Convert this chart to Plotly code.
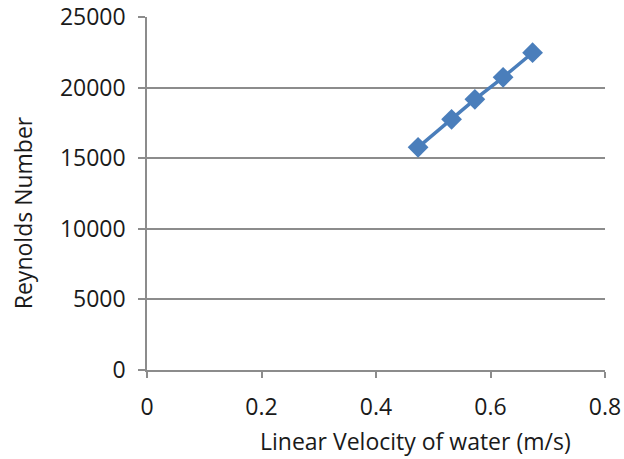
import plotly.graph_objects as go

velocity = [0.4735, 0.532, 0.5727, 0.622, 0.6735]
reynolds = [15770, 17750, 19170, 20730, 22470]

x_ticks = [0, 0.2, 0.4, 0.6, 0.8]
x_labels = ["0", "0.2", "0.4", "0.6", "0.8"]
y_ticks = [0, 5000, 10000, 15000, 20000, 25000]
y_labels = ["0", "5000", "10000", "15000", "20000", "25000"]

x_title = "Linear Velocity of water (m/s)"
y_title = "Reynolds Number"

fig = go.Figure()
fig.add_trace(go.Scatter(
    x=velocity, y=reynolds, mode="lines+markers",
    line=dict(color="#4a7ebb", width=3.5),
    marker=dict(symbol="diamond", size=16, color="#4a7ebb"),
    showlegend=False,
))

fam = "Open Sans, Liberation Sans, sans-serif"
font = dict(family=fam, size=23, color="#1a1a1a")
grey = "#8c8c8c"

fig.update_layout(
    width=624, height=459,
    margin=dict(l=147, r=19, t=17, b=89),
    paper_bgcolor="white", plot_bgcolor="white",
    font=font,
    xaxis=dict(
        range=[0, 0.8], tickvals=x_ticks, ticktext=x_labels,
        showgrid=False, zeroline=False, automargin=False,
        showline=True, linecolor=grey, linewidth=1.5,
        ticks="outside", ticklen=6, tickcolor=grey, tickwidth=1.5,
        ticklabelstandoff=10,
    ),
    yaxis=dict(
        range=[0, 25000], tickvals=y_ticks, ticktext=y_labels,
        showgrid=True, gridcolor=grey, gridwidth=1.5,
        zeroline=False, automargin=False,
        showline=True, linecolor=grey, linewidth=1.5,
        ticks="outside", ticklen=7, tickcolor=grey, tickwidth=1.5,
        ticklabelstandoff=8,
    ),
    annotations=[
        dict(text=x_title, xref="paper", yref="paper", x=0.587, y=-0.201,
             xanchor="center", yanchor="middle", showarrow=False,
             font=dict(family=fam, size=23, color="#1a1a1a")),
        dict(text=y_title, xref="paper", yref="paper", x=-0.27, y=0.445,
             xanchor="center", yanchor="middle", showarrow=False,
             textangle=-90, font=dict(family=fam, size=23, color="#1a1a1a")),
    ],
)

fig.write_html("out.html")
